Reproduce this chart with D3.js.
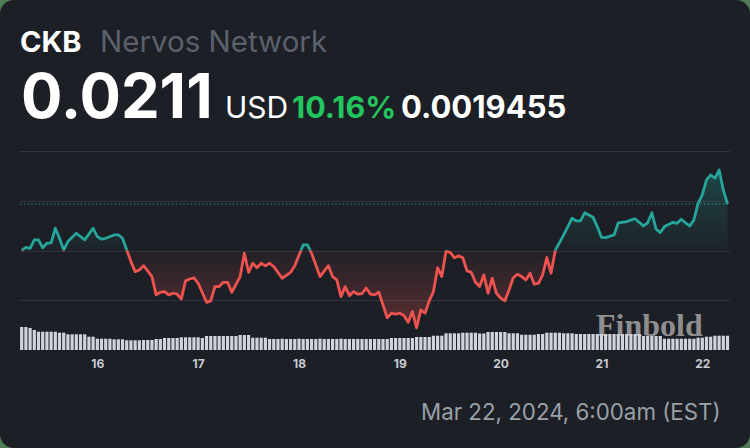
<!DOCTYPE html>
<html><head><meta charset="utf-8">
<script src="https://cdn.jsdelivr.net/npm/d3@7"></script>
<style>
html,body{margin:0;padding:0;background:#4f7c56;}
svg{display:block;}
</style></head><body>
<svg id="c" width="750" height="448"></svg>
<script>
// ---- DATA ----
const symbol = "CKB";
const assetName = "Nervos Network";
const lastPrice = 0.0211;
const currency = "USD";
const changePct = "10.16%";
const changeAbs = "0.0019455";
const dateLabel = "Mar 22, 2024, 6:00am (EST)";

// hours since Mar 15, 2024 06:00
const hours = [
  0,1,2,3,4,5,6,7,8,9,
  10,11,13,15,17,18,19,20,22,23,
  24,25,26,27,28,29,30,31,32,33,
  34,35,36,37,38,39,40,41,42,44,
  45,46,47,48,49,50,52,53,54,55,
  56,57,58,59,60,62,64,65,67,68,
  69,71,73,74,75,76,77,78,79,80,
  81,82,83,84,85,86,87,88,89,90,
  91,92,93,94,95,96,97,98,99,100,
  101,102,103,104,105,106,107,108,109,110,
  111,112,113,114,115,116,117,118,119,120,
  121,122,123,124,125,126,127,129,131,132,
  133,134,136,137,138,139,141,142,144,145,
  146,148,149,150,151,152,153,155,156,157,
  158,159,160,161,162,163,164,165,166,167,
  168
];
const prices = [
  0.01915,0.01928,0.01924,0.01959,0.01959,0.01926,0.01945,0.01947,0.02008,0.01966,
  0.01917,0.01952,0.01987,0.01959,0.02008,0.01973,0.01962,0.01966,0.01980,0.01980,
  0.01966,0.01917,0.01868,0.01826,0.01833,0.01851,0.01829,0.01805,0.01728,0.01739,
  0.01742,0.01728,0.01735,0.01731,0.01711,0.01787,0.01795,0.01800,0.01777,0.01697,
  0.01703,0.01763,0.01763,0.01781,0.01781,0.01739,0.01805,0.01903,0.01823,0.01861,
  0.01842,0.01861,0.01850,0.01861,0.01847,0.01798,0.01823,0.01851,0.01938,0.01938,
  0.01903,0.01805,0.01851,0.01805,0.01791,0.01721,0.01763,0.01725,0.01742,0.01731,
  0.01733,0.01757,0.01731,0.01728,0.01739,0.01686,0.01632,0.01651,0.01647,0.01651,
  0.01641,0.01613,0.01658,0.01590,0.01665,0.01651,0.01703,0.01742,0.01842,0.01805,
  0.01912,0.01907,0.01884,0.01892,0.01884,0.01829,0.01823,0.01781,0.01763,0.01812,
  0.01735,0.01798,0.01735,0.01715,0.01703,0.01749,0.01800,0.01815,0.01805,0.01791,
  0.01819,0.01773,0.01777,0.01812,0.01885,0.01819,0.01915,0.01980,0.02050,0.02039,
  0.02039,0.02073,0.02054,0.02015,0.01970,0.01969,0.01980,0.02031,0.02036,0.02043,
  0.02048,0.02018,0.02031,0.02073,0.02004,0.01990,0.02015,0.02033,0.02029,0.02046,
  0.02031,0.02018,0.02043,0.02113,0.02148,0.02211,0.02232,0.02218,0.02253,0.02169,
  0.02110
];
// hourly volume (relative units), one bar per hour from Mar 15 06:00
const volumes = [
  23,23,22,20,18.3,18.3,18.3,18.3,18.3,17.3,
  17.3,15.7,15.7,15.7,15.7,15.7,13.3,13.3,11.3,11.3,
  11.3,11.3,10.7,10.7,10.7,9.7,9.7,9.7,9.7,10,
  10,10,11,11,12,12,12,12,12.7,12.7,
  12.7,12.7,12.7,12,14,14,14,14,14,14,
  14,14,15,15,15,12.3,12.3,12.3,12.3,11,
  11,11,11.3,11,11,11,11.3,11,11,11,
  11,11.3,11,11,11,11,11.3,11,11,11,
  11,11,11,11,11,11,11,11,12,12,
  12,12,12,12,13,13,13,13,14.3,14.3,
  14.3,16.7,16.7,16.7,16.7,17.3,17.3,17.3,17.3,16.5,
  16.5,18,18,18,18,18,16.7,16.7,16.7,15.3,
  15.3,15.3,15.3,16,16,17.3,17.3,17.3,17.3,16.7,
  16.7,16.7,16,16,16,16,16,16,16,16,
  16,16,16,16,16,16,16,16,14,14,
  14,14,14,11.3,11.3,11.3,11.3,11.3,11.3,11.3,
  11.3,12.3,12.3,13.3,13.3,14.3,14.3,14.3,14.3
];
const gridValues = [0.01707, 0.01913, 0.02123, 0.02333];

// ---- CHART ----
const HOUR = 3600e3;
const start = Date.UTC(2024, 2, 15, 6);
const svg = d3.select("#c");
const W = 750, H = 448;
const font = "Inter, 'Noto Sans', sans-serif";

svg.append("rect").attr("width", W).attr("height", H).attr("rx", 14).attr("fill", "#1c1f25");

const x = d3.scaleUtc().domain([new Date(start), new Date(start + 168 * HOUR)]).range([21.7, 727.5]);
const y = d3.scaleLinear().domain([0.015, 0.024]).range([349.2, 134.95]);
const yv = d3.scaleLinear().domain([0, 23]).range([350, 327]);

const pts = hours.map((h, i) => ({ t: new Date(start + h * HOUR), p: prices[i] }));
const openPrice = prices[0];
const yb = y(openPrice);

// header
svg.append("text").attr("x", 20).attr("y", 52).text(symbol)
  .attr("font-family", font).attr("font-weight", 700).attr("font-size", 29).attr("fill", "#ffffff");
svg.append("text").attr("x", 100).attr("y", 52).text(assetName)
  .attr("font-family", font).attr("font-weight", 400).attr("font-size", 29.5).attr("fill", "#5b616c");
svg.append("text").attr("x", 21).attr("y", 118).text(String(lastPrice))
  .attr("font-family", font).attr("font-weight", 700).attr("font-size", 61.5).attr("fill", "#ffffff");
svg.append("text").attr("x", 225).attr("y", 118).text(currency)
  .attr("font-family", font).attr("font-weight", 400).attr("font-size", 30).attr("fill", "#ffffff");
svg.append("text").attr("x", 292).attr("y", 118).text(changePct)
  .attr("font-family", font).attr("font-weight", 700).attr("font-size", 30.5).attr("fill", "#22c55e");
svg.append("text").attr("x", 401).attr("y", 118).text(changeAbs)
  .attr("font-family", font).attr("font-weight", 700).attr("font-size", 31).attr("fill", "#ffffff");

// gridlines
svg.append("g").selectAll("line").data(gridValues).join("line")
  .attr("x1", 20).attr("x2", 730)
  .attr("y1", d => Math.round(y(d)) + 0.5).attr("y2", d => Math.round(y(d)) + 0.5)
  .attr("stroke", "#30343c").attr("stroke-width", 1);

// current price dotted line
svg.append("line").attr("x1", 20).attr("x2", 730)
  .attr("y1", y(lastPrice)).attr("y2", y(lastPrice))
  .attr("stroke", "#26a69a").attr("stroke-width", 1.2).attr("stroke-dasharray", "1.2,2.6");

// defs
const defs = svg.append("defs");
defs.append("clipPath").attr("id", "above").append("rect").attr("x", 0).attr("y", 0).attr("width", W).attr("height", yb);
defs.append("clipPath").attr("id", "below").append("rect").attr("x", 0).attr("y", yb).attr("width", W).attr("height", H - yb);
const gUp = defs.append("linearGradient").attr("id", "gUp").attr("gradientUnits", "userSpaceOnUse")
  .attr("x1", 0).attr("x2", 0).attr("y1", y(d3.max(prices))).attr("y2", yb);
gUp.append("stop").attr("offset", 0).attr("stop-color", "#26a69a").attr("stop-opacity", 0.28);
gUp.append("stop").attr("offset", 1).attr("stop-color", "#26a69a").attr("stop-opacity", 0.03);
const gDn = defs.append("linearGradient").attr("id", "gDn").attr("gradientUnits", "userSpaceOnUse")
  .attr("x1", 0).attr("x2", 0).attr("y1", yb).attr("y2", y(d3.min(prices)));
gDn.append("stop").attr("offset", 0).attr("stop-color", "#ef5350").attr("stop-opacity", 0.03);
gDn.append("stop").attr("offset", 1).attr("stop-color", "#ef5350").attr("stop-opacity", 0.3);

const area = d3.area().x(d => x(d.t)).y0(yb).y1(d => y(d.p));
const line = d3.line().x(d => x(d.t)).y(d => y(d.p));

svg.append("path").datum(pts).attr("d", area).attr("fill", "url(#gUp)").attr("clip-path", "url(#above)");
svg.append("path").datum(pts).attr("d", area).attr("fill", "url(#gDn)").attr("clip-path", "url(#below)");

// watermark
svg.append("text").attr("x", 596).attr("y", 336).text("Finbold")
  .attr("font-family", "'Liberation Serif', 'DejaVu Serif', serif").attr("font-weight", 700)
  .attr("font-size", 32).attr("fill", "#8e8e8e");

// lines
svg.append("path").datum(pts).attr("d", line).attr("fill", "none").attr("stroke", "#26a69a")
  .attr("stroke-width", 2.8).attr("stroke-linejoin", "round").attr("clip-path", "url(#above)");
svg.append("path").datum(pts).attr("d", line).attr("fill", "none").attr("stroke", "#ef5350")
  .attr("stroke-width", 2.8).attr("stroke-linejoin", "round").attr("clip-path", "url(#below)");

// volume
svg.append("g").selectAll("rect").data(volumes).join("rect")
  .attr("x", (v, i) => x(new Date(start + i * HOUR)) - 1.6)
  .attr("width", 3.2)
  .attr("y", v => yv(v))
  .attr("height", v => yv(0) - yv(v))
  .attr("fill", "#d1d4dc");

// x axis
const ax = svg.append("g").attr("transform", "translate(0,356)")
  .call(d3.axisBottom(x).ticks(d3.utcDay.every(1)).tickFormat(d3.utcFormat("%-d")).tickSize(0).tickPadding(3));
ax.select(".domain").remove();
ax.selectAll("text").attr("font-family", font).attr("font-weight", 700).attr("font-size", 12).attr("fill", "#c8cbd2");

// date
svg.append("text").attr("x", 421).attr("y", 420).text(dateLabel)
  .attr("font-family", font).attr("font-weight", 400).attr("font-size", 22.3).attr("fill", "#9aa0a9");
</script>
</body></html>
